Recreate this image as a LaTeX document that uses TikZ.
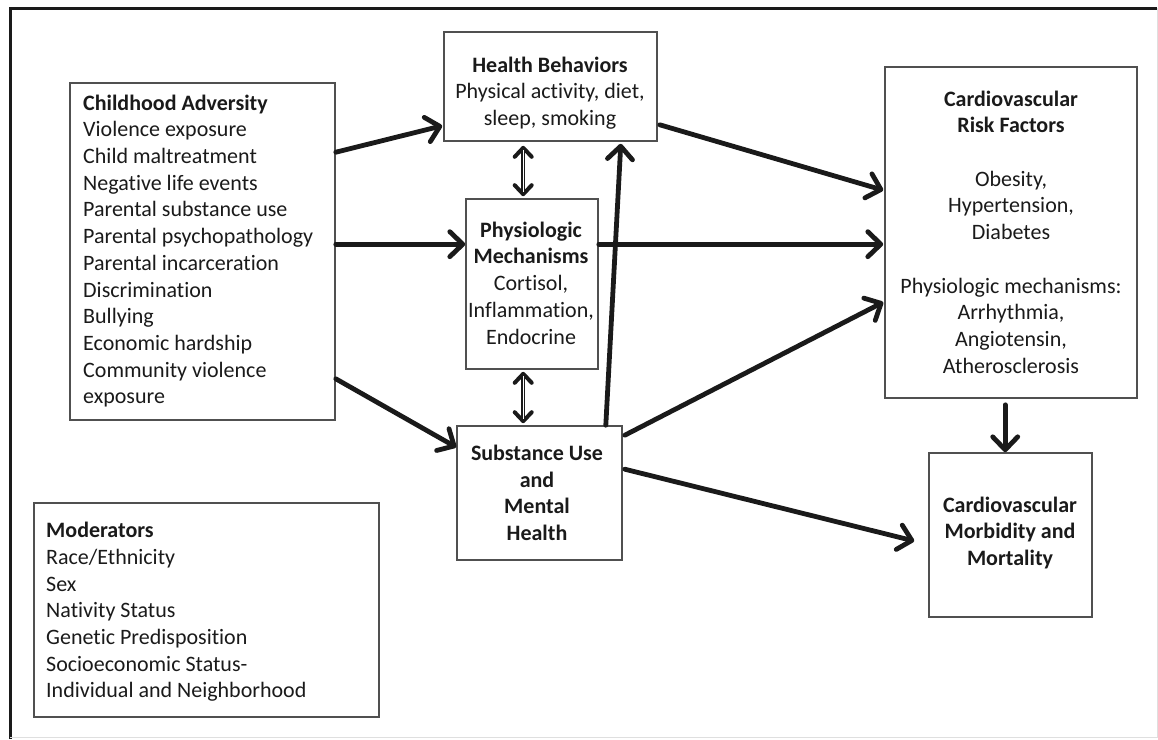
\documentclass[tikz,border=0pt]{standalone}
\usepackage{fontspec}
\setmainfont{Carlito}[Ligatures={NoCommon,NoContextual}]
\usetikzlibrary{arrows.meta,calc}
\definecolor{ink}{HTML}{1A1A1A}
\definecolor{boxgray}{HTML}{505050}
\begin{document}
\begin{tikzpicture}[x=1pt,y=-1pt,
  box/.style={draw=boxgray, line width=1.6pt, inner sep=0pt, fill=none},
  txt/.style={font=\fontsize{22}{26.7}\selectfont, text=ink, inner sep=0pt, align=center},
  arr/.style={draw=ink, line width=4.8pt, line cap=round,
     -{Straight Barb[length=13pt,width=25pt,line cap=round,round]}},
  dblarr/.style={draw=ink, line width=4pt,
     {Straight Barb[length=9pt,width=17pt,line cap=round,round]}-{Straight Barb[length=9pt,width=17pt,line cap=round,round]}},
  dblgap/.style={draw=white, line width=1.4pt, shorten <=4pt, shorten >=4pt}
]
\useasboundingbox (0,0) rectangle (1158,739);
% outer frame
\draw[ink, line width=3pt] (10,739) -- (10,8) -- (1157,8);
\draw[gray!25, line width=1pt] (1157,8) -- (1157,737) -- (10,737);

% boxes
\node[box, minimum width=265pt, minimum height=337pt] (ca) at (202.5,251.5) {};
\node[box, minimum width=213pt, minimum height=109pt] (hb) at (550.5,86.5) {};
\node[box, minimum width=132pt, minimum height=170pt] (pm) at (532,284) {};
\node[box, minimum width=165pt, minimum height=134pt] (su) at (539.5,493) {};
\node[box, minimum width=252pt, minimum height=331pt] (cvrf) at (1011,232.5) {};
\node[box, minimum width=163pt, minimum height=164pt] (mm) at (1010.5,535) {};
\node[box, minimum width=345pt, minimum height=214pt] (mod) at (206.5,610) {};

% texts
\node[txt, align=left, anchor=west] (catext) at (83,251) {\textbf{Childhood Adversity}\\Violence exposure\\Child maltreatment\\Negative life events\\Parental substance use\\Parental psychopathology\\Parental incarceration\\Discrimination\\Bullying\\Economic hardship\\Community violence\\exposure};
\node[txt] (hbtext) at (550,93) {\textbf{Health Behaviors}\\Physical activity, diet,\\sleep, smoking};
\node[txt] (pmtext) at (531,283) {\textbf{Physiologic}\\\textbf{Mechanisms}\\Cortisol,\\Inflammation,\\Endocrine};
\node[txt] (sutext) at (537,493) {\textbf{Substance Use}\\\textbf{and}\\\textbf{Mental}\\\textbf{Health}};
\node[txt] (cvrftext) at (1011,232) {\textbf{Cardiovascular}\\\textbf{Risk Factors}\\[26.7pt]Obesity,\\Hypertension,\\Diabetes\\[26.7pt]Physiologic mechanisms:\\Arrhythmia,\\Angiotensin,\\Atherosclerosis};
\node[txt] (mmtext) at (1010,533) {\textbf{Cardiovascular}\\\textbf{Morbidity and}\\\textbf{Mortality}};
\node[txt, align=left, anchor=west] (modtext) at (46,612) {\textbf{Moderators}\\Race/Ethnicity\\Sex\\Nativity Status\\Genetic Predisposition\\Socioeconomic Status-\\Individual and Neighborhood};

% connectors
\draw[arr] ($(ca.north east)+(0,70)$) -- ($(hb.south west)+(-1,-16)$);
\draw[arr] ($(ca.north east)+(0,162)$) -- ($(pm.north west)+(0,46)$);
\draw[arr] ($(ca.south east)+(0,-42)$) -- ($(su.north west)+(0,22)$);
\draw[arr] ($(su.north east)+(-17,0)$) -- ($(hb.south east)+(-37,2)$);
\draw[arr] ($(hb.south east)+(2,-17)$) -- ($(cvrf.north west)+(-1,124)$);
\draw[arr] ($(pm.north east)+(0,46)$) -- ($(cvrf.north west)+(-1,178)$);
\draw[arr] ($(su.north east)+(2,10)$) -- ($(cvrf.north west)+(-1,236)$);
\draw[arr] ($(su.north east)+(2,44)$) -- ($(mm.west)+(-14,6)$);
\draw[arr] ($(cvrf.south west)+(121,6)$) -- ($(mm.north west)+(77,0)$);

% double arrows
\draw[dblarr] ($(hb.south west)+(80,4)$) -- ($(pm.north west)+(58,-2)$);
\draw[dblgap] ($(hb.south west)+(80,4)$) -- ($(pm.north west)+(58,-2)$);
\draw[dblarr] ($(pm.south west)+(58,2)$) -- ($(su.north west)+(67,-2)$);
\draw[dblgap] ($(pm.south west)+(58,2)$) -- ($(su.north west)+(67,-2)$);
\end{tikzpicture}
\end{document}
